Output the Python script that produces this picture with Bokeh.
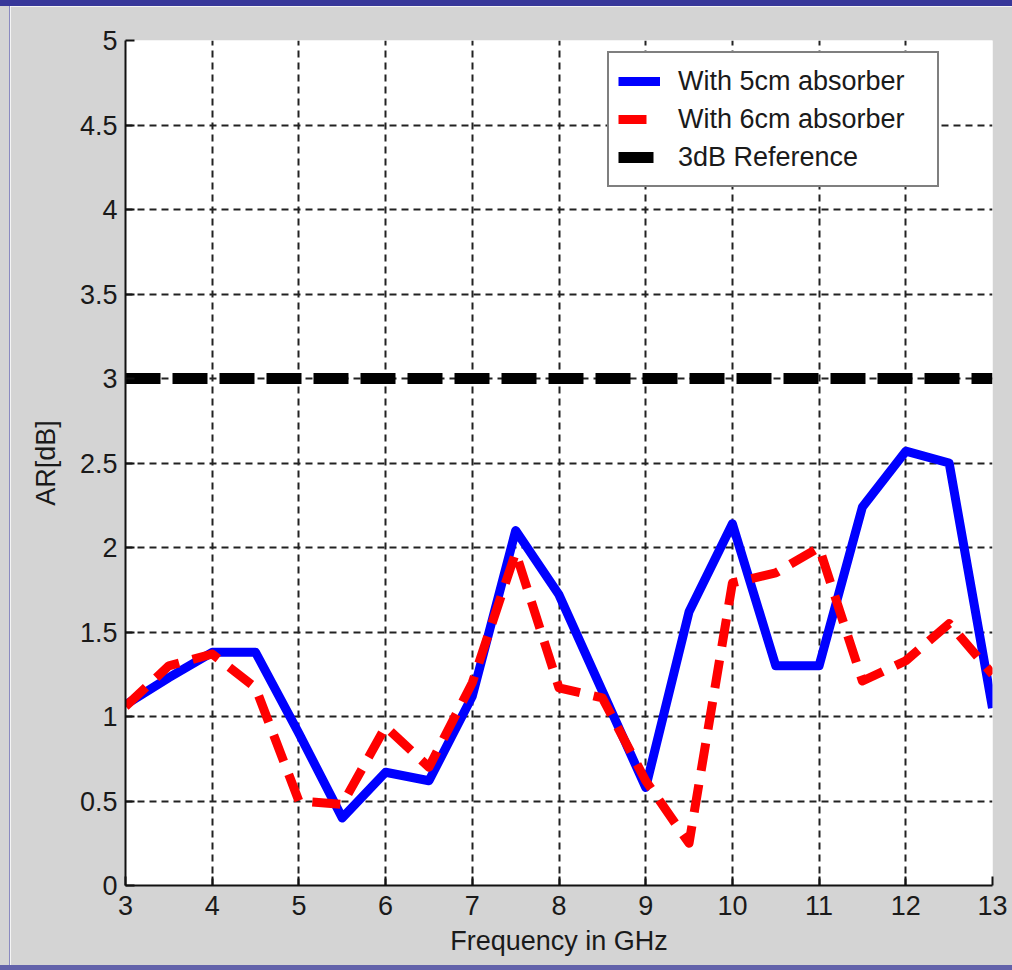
from bokeh.plotting import figure
from bokeh.models import (Range1d, FixedTicker, Legend, LegendItem, Div)
from bokeh.layouts import column, row
from bokeh.embed import file_html
from bokeh.resources import INLINE

# Frequency sweep (GHz) and axial ratio (dB) for the two absorber thicknesses
freq = [3, 3.5, 4, 4.5, 5, 5.5, 6, 6.5, 7, 7.5, 8, 8.5, 9, 9.5, 10, 10.5, 11, 11.5, 12, 12.5, 13]
ar_5cm = [1.07, 1.23, 1.38, 1.38, 0.90, 0.40, 0.67, 0.62, 1.12, 2.10, 1.72, 1.15, 0.58,
          1.62, 2.14, 1.30, 1.30, 2.24, 2.57, 2.50, 1.05]
ar_6cm = [1.06, 1.30, 1.37, 1.17, 0.50, 0.48, 0.94, 0.70, 1.20, 1.97, 1.17, 1.11, 0.62,
          0.25, 1.79, 1.85, 2.00, 1.21, 1.33, 1.55, 1.25]
ref_freq = [3, 13]
ref_ar = [3, 3]

x_ticks = [3, 4, 5, 6, 7, 8, 9, 10, 11, 12, 13]
y_ticks = [0, 0.5, 1, 1.5, 2, 2.5, 3, 3.5, 4, 4.5, 5]
y_tick_labels = ["0", "0.5", "1", "1.5", "2", "2.5", "3", "3.5", "4", "4.5", "5"]

series_names = ["With 5cm absorber", "With 6cm absorber", "3dB Reference"]
x_title = "Frequency in GHz"
y_title = "AR[dB]"

FONT = "Liberation Sans"
GRAY = "#d4d4d4"
TXT = "#1a1a1a"

p = figure(width=1002, height=959, output_backend="svg", toolbar_location=None,
           x_range=Range1d(3, 13), y_range=Range1d(0, 5),
           min_border_left=115, min_border_right=20, min_border_top=34,
           min_border_bottom=80, margin=0)
p.background_fill_color = "white"
p.border_fill_color = GRAY
p.outline_line_color = None

for ax in (p.xaxis[0], p.yaxis[0]):
    ax.axis_line_width = 2
    ax.axis_line_color = "#111111"
    ax.major_tick_in = 9
    ax.major_tick_out = 0
    ax.major_tick_line_width = 2
    ax.major_tick_line_color = "#111111"
    ax.minor_tick_line_color = None
    ax.major_label_text_font = FONT
    ax.major_label_text_font_size = "27px"
    ax.major_label_text_color = TXT
    ax.axis_label_text_font = FONT
    ax.axis_label_text_font_size = "27px"
    ax.axis_label_text_font_style = "normal"
    ax.axis_label_text_color = TXT

p.xaxis.ticker = FixedTicker(ticks=x_ticks)
p.yaxis.ticker = FixedTicker(ticks=y_ticks)
p.yaxis.major_label_overrides = {t: s for t, s in zip(y_ticks, y_tick_labels)}
p.xaxis.major_label_standoff = 10
p.yaxis.major_label_standoff = 8

p.yaxis.axis_label = y_title
p.yaxis.axis_label_standoff = 16
p.xaxis.axis_label = x_title
p.xaxis.axis_label_standoff = 8

for g, ticks in ((p.xgrid[0], x_ticks), (p.ygrid[0], y_ticks)):
    g.ticker = FixedTicker(ticks=ticks)
    g.grid_line_color = "#222222"
    g.grid_line_width = 2
    g.grid_line_dash = "7 5"
    g.grid_line_alpha = 1.0

r5 = p.line(freq, ar_5cm, line_color="#0000ff", line_width=9, line_join="round")
r6 = p.line(freq, ar_6cm, line_color="#ff0000", line_width=9, line_dash="28 14",
            line_join="round")
rref = p.line(ref_freq, ref_ar, line_color="black", line_width=11, line_dash="35 12")

legend = Legend(items=[LegendItem(label=series_names[0], renderers=[r5]),
                       LegendItem(label=series_names[1], renderers=[r6]),
                       LegendItem(label=series_names[2], renderers=[rref])],
                location=(482, 698))
legend.label_text_font = FONT
legend.label_text_font_size = "27px"
legend.label_text_color = TXT
legend.glyph_width = 42
legend.glyph_height = 38
legend.label_height = 38
legend.label_width = 250
legend.label_standoff = 18
legend.padding = 9
legend.spacing = 0
legend.margin = 0
legend.border_line_color = "black"
legend.border_line_width = 2
legend.background_fill_color = "white"
legend.background_fill_alpha = 1.0
p.add_layout(legend, "center")

top_band = Div(width=1012, height=6, margin=0, styles={"background-color": "#38389a"})
left_pad = Div(width=9, height=959, margin=0, styles={"background-color": GRAY})
left_rule = Div(width=1, height=959, margin=0, styles={"background-color": "#8a8ac0"})
bottom_band = Div(width=1012, height=5, margin=0, styles={"background-color": "#6262aa"})

body = row(left_pad, left_rule, p, spacing=0, margin=0)
page = column(top_band, body, bottom_band, spacing=0, margin=0)

open("out.html", "w").write(file_html(page, INLINE))
